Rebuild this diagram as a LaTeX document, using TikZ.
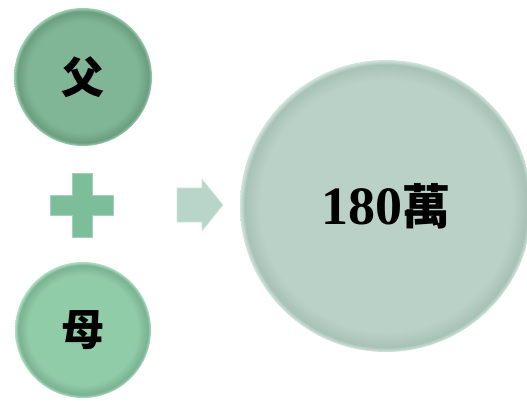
\documentclass[tikz,border=0pt]{standalone}
\usepackage{fontspec}
\setmainfont{Liberation Serif}
\newfontfamily\cjk{Noto Sans CJK TC}
\usetikzlibrary{shadings}
\pgfdeclareradialshading{topshade}{\pgfpoint{0bp}{0bp}}{%
  rgb(0bp)=(0.50,0.71,0.59); rgb(20bp)=(0.50,0.71,0.59); rgb(23.8bp)=(0.42,0.62,0.50);
  rgb(25bp)=(0.62,0.82,0.70); rgb(50bp)=(0.62,0.82,0.70)}
\pgfdeclareradialshading{botshade}{\pgfpoint{0bp}{0bp}}{%
  rgb(0bp)=(0.57,0.80,0.66); rgb(20bp)=(0.57,0.80,0.66); rgb(23.8bp)=(0.48,0.70,0.57);
  rgb(25bp)=(0.68,0.88,0.76); rgb(50bp)=(0.68,0.88,0.76)}
\pgfdeclareradialshading{bigshade}{\pgfpoint{0bp}{0bp}}{%
  rgb(0bp)=(0.73,0.82,0.78); rgb(21.5bp)=(0.73,0.82,0.78); rgb(24.2bp)=(0.66,0.76,0.72);
  rgb(25bp)=(0.82,0.90,0.87); rgb(50bp)=(0.82,0.90,0.87)}
\definecolor{plusc}{HTML}{7DBE9A}
\definecolor{arrowc}{HTML}{B9D5CA}
\tikzset{
  ball/.style={circle, inner sep=0pt, text=black},
  smallball/.style={ball, font=\cjk\bfseries\fontsize{43}{43}\selectfont},
}
\begin{document}
\begin{tikzpicture}[x=1pt,y=-1pt]
\useasboundingbox (0,0) rectangle (527,401);
% top circle
\node[smallball, minimum size=138pt, shading=topshade] (fa) at (83,77) {父};
% bottom circle
\node[smallball, minimum size=136pt, shading=botshade] (mu) at (83,330) {母};
% big circle
\node[ball, minimum size=292pt, shading=bigshade] (res) at (386,206) {\fontsize{54}{54}\selectfont\bfseries 180{\cjk\fontsize{48}{48}\selectfont 萬}};
% plus
\coordinate (pc) at (82,205);
\fill[plusc, draw=plusc!70!white, line width=0.8pt]
  ([shift={(-10,-32)}]pc) -- ([shift={(10,-32)}]pc) -- ([shift={(10,-10)}]pc)
  -- ([shift={(31,-10)}]pc) -- ([shift={(31,10)}]pc) -- ([shift={(10,10)}]pc)
  -- ([shift={(10,32)}]pc) -- ([shift={(-10,32)}]pc) -- ([shift={(-10,10)}]pc)
  -- ([shift={(-32,10)}]pc) -- ([shift={(-32,-10)}]pc) -- ([shift={(-10,-10)}]pc) -- cycle;
% arrow
\coordinate (ar) at (200,205);
\fill[arrowc, draw=arrowc!60!white, line width=0.6pt]
  ([shift={(-23,-17)}]ar) -- ([shift={(2,-17)}]ar) -- ([shift={(2,-26)}]ar)
  -- ([shift={(23,0)}]ar) -- ([shift={(2,26)}]ar) -- ([shift={(2,17)}]ar)
  -- ([shift={(-23,17)}]ar) -- cycle;
\end{tikzpicture}
\end{document}
